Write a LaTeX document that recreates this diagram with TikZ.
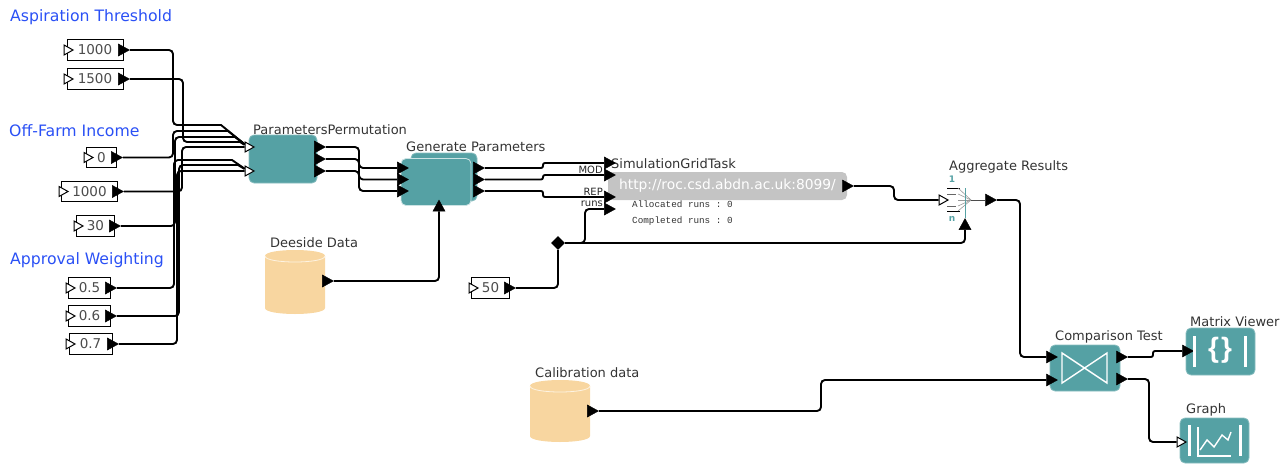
\documentclass[tikz,border=0pt]{standalone}
\usepackage{fontspec}
\setmainfont{DejaVu Sans}
\setmonofont{Liberation Mono}
\newfontfamily\bracefont{Liberation Sans}
\usetikzlibrary{shapes.geometric}
\definecolor{tealbox}{HTML}{55A1A4}
\definecolor{peach}{HTML}{F8D6A0}
\definecolor{linkblue}{HTML}{2A50F5}
\definecolor{simgray}{HTML}{C4C4C4}
\begin{document}
\begin{tikzpicture}[x=1pt,y=-1pt]
        \tikzstyle{wire} = [line width=1.9pt, rounded corners=4pt]
        \tikzstyle{jog} = [line width=1.9pt, rounded corners=2pt]
        \tikzstyle{heading} = [text=linkblue, font=\fontsize{15.7}{17}\selectfont, anchor=west, inner sep=0pt]
        \tikzstyle{caption} = [text=black!80, font=\fontsize{13}{15}\selectfont, anchor=west, inner sep=0pt]
        \tikzstyle{const} = [rectangle, draw=black, fill=white, line width=0.9pt, text=black!70, inner sep=0pt, minimum height=20.5pt, font=\fontsize{13.5}{15}\selectfont]
        \tikzstyle{block} = [rectangle, rounded corners=5pt, fill=tealbox, draw=tealbox!70!white, line width=0.8pt, inner sep=0pt]
        \tikzstyle{blackport} = [isosceles triangle, isosceles triangle stretches, fill=black, draw=black, line width=0.4pt, minimum width=12pt, minimum height=11pt, inner sep=0pt]
        \tikzstyle{whiteport} = [blackport, fill=white, line width=1pt, minimum width=10pt, minimum height=9pt]
        \tikzstyle{store} = [rectangle, inner sep=0pt, minimum width=60pt, minimum height=64pt]
        \tikzstyle{icon} = [white, line width=1.4pt]
        \tikzstyle{bar} = [white, line width=3pt]
        \tikzstyle{small} = [inner sep=0pt, anchor=east, text=black!85, font=\fontsize{10}{11}\selectfont]
        \tikzstyle{status} = [inner sep=0pt, anchor=west, text=black!80, font=\ttfamily\fontsize{9.3}{10}\selectfont]
        \useasboundingbox (0,0) rectangle (1287,463);

        % headings
        \node (headasp) [heading] at (10,17.5) {Aspiration Threshold};
        \node (headoff) [heading] at (9,130.5) {Off-Farm Income};
        \node (headapp) [heading] at (10,260.5) {Approval Weighting};

        % constants
        \node (asplow) [const, minimum width=56pt] at (95,50) {1000};
        \node (asphigh) [const, minimum width=56pt] at (95,79) {1500};
        \node (offzero) [const, minimum width=30pt] at (101.5,157.5) {0};
        \node (offmid) [const, minimum width=56pt] at (89.5,191.5) {1000};
        \node (offthirty) [const, minimum width=38pt] at (95.5,226) {30};
        \node (applow) [const, minimum width=42pt] at (89.5,288) {0.5};
        \node (appmid) [const, minimum width=42pt] at (89.5,316) {0.6};
        \node (apphigh) [const, minimum width=43pt] at (90.5,344) {0.7};
        \node (runsval) [const, minimum width=38pt] at (490.5,288) {50};

        \node (aspowin) [whiteport] at (67,50) {};
        \node (asphin) [whiteport] at (67,79) {};
        \node (offzin) [whiteport] at (87,157.5) {};
        \node (offmin) [whiteport] at (62,191.5) {};
        \node (offtin) [whiteport] at (77,226) {};
        \node (applin) [whiteport] at (69,288) {};
        \node (appmin) [whiteport] at (69,316) {};
        \node (apphin) [whiteport] at (69,344) {};
        \node (runsin) [whiteport] at (472,288) {};

        \node (aspowout) [blackport] at (122,50) {};
        \node (asphout) [blackport] at (122,79) {};
        \node (offzout) [blackport] at (115,157.5) {};
        \node (offmout) [blackport] at (116,191.5) {};
        \node (offtout) [blackport] at (113,226) {};
        \node (applout) [blackport] at (109,288) {};
        \node (appmout) [blackport] at (109,316) {};
        \node (apphout) [blackport] at (111,344) {};
        \node (runsout) [blackport] at (508,288) {};

        % parameters permutation
        \node (perm) [block, minimum width=68pt, minimum height=48pt] at (283,159) {};
        \node (permlabel) [caption] at (253,130) {ParametersPermutation};
        \node (permina) [whiteport] at (248,147) {};
        \node (perminb) [whiteport] at (248,171) {};
        \node (permouta) [blackport] at (318,147) {};
        \node (permoutb) [blackport] at (318,159) {};
        \node (permoutc) [blackport] at (318,171) {};

        % generate parameters
        \node (genback) [block, minimum width=66pt, minimum height=48pt] at (444,177) {};
        \node (gen) [block, draw=white!70!tealbox, minimum width=70pt, minimum height=47pt] at (436,182) {};
        \node (genlabel) [caption] at (406,147) {Generate Parameters};
        \node (genina) [blackport] at (401,168) {};
        \node (geninb) [blackport] at (401,179.5) {};
        \node (geninc) [blackport] at (401,191) {};
        \node (genind) [blackport, shape border rotate=90] at (439,207.5) {};
        \node (genouta) [blackport] at (477,168) {};
        \node (genoutb) [blackport] at (477,179.5) {};
        \node (genoutc) [blackport] at (477,191) {};

        % data sources
        \draw [fill=peach, draw=none] (265,256) .. controls (265,248) and (325,248) .. (325,256) -- (325,308) .. controls (325,316) and (265,316) .. (265,308) -- cycle;
        \draw [white!70!peach, line width=0.8pt] (265,256) .. controls (265,264) and (325,264) .. (325,256);
        \node (deeside) [store] at (295,282) {};
        \node (deesidelabel) [caption] at (270,243) {Deeside Data};
        \node (deesideout) [blackport] at (326,281) {};
        \draw [fill=peach, draw=none] (530,386) .. controls (530,378) and (590,378) .. (590,386) -- (590,436) .. controls (590,444) and (530,444) .. (530,436) -- cycle;
        \draw [white!70!peach, line width=0.8pt] (530,386) .. controls (530,394) and (590,394) .. (590,386);
        \node (calib) [store] at (560,411) {};
        \node (caliblabel) [caption] at (535,373) {Calibration data};
        \node (calibout) [blackport] at (591,411) {};

        % simulation task
        \node (sim) [rectangle, rounded corners=5pt, fill=simgray, minimum width=239pt, minimum height=28pt, inner sep=0pt, text=white, font=\fontsize{13.8}{15}\selectfont] at (727.5,186) {http://roc.csd.abdn.ac.uk:8099/};
        \node (simlabel) [caption] at (611,164) {SimulationGridTask};
        \node (simalloc) [status] at (632,204) {Allocated runs : 0};
        \node (simdone) [status] at (632,221) {Completed runs : 0};
        \node (simina) [blackport] at (608,163) {};
        \node (siminb) [blackport] at (608,175) {};
        \node (siminc) [blackport] at (608,197) {};
        \node (simind) [blackport] at (608,209) {};
        \node (simout) [blackport] at (846,186) {};
        \node (modlabel) [small] at (603,170) {MOD};
        \node (replabel) [small] at (603,192) {REP};
        \node (runslabel) [small] at (603,204) {runs};

        % aggregate results
        \node (agglabel) [caption] at (949,167) {Aggregate Results};
        \node (aggone) [text=tealbox, inner sep=0pt, font=\bfseries\fontsize{9}{10}\selectfont] at (952,179) {1};
        \node (aggn) [text=tealbox, inner sep=0pt, font=\bfseries\fontsize{9}{10}\selectfont] at (952,219) {n};
        \node (aggin) [whiteport] at (942,200) {};
        \node (aggout) [blackport] at (989,200) {};
        \node (aggcount) [blackport, shape border rotate=90] at (965,226) {};
        \node (aggsplit) [diamond, fill=black, inner sep=0pt, minimum width=14pt, minimum height=14pt] at (558,243) {};
        \coordinate (aggtip) at (971,200);
        \draw [black, line width=0.9pt] (947,188) -- (960,188);
        \draw [black, line width=0.9pt] (947,211) -- (960,211);
        \draw [black!60, line width=0.7pt] (947,194) -- (956,194);
        \draw [black!60, line width=0.7pt] (947,206) -- (956,206);
        \draw [black!40, line width=0.6pt] (958,188) -- (aggtip);
        \draw [black!40, line width=0.6pt] (958,194) -- (aggtip);
        \draw [black!40, line width=0.6pt] (958,200) -- (aggtip);
        \draw [black!40, line width=0.6pt] (958,206) -- (aggtip);
        \draw [black!40, line width=0.6pt] (958,211) -- (aggtip);
        \draw [black!70, line width=0.9pt] (aggtip) -- (aggout);
        \draw [tealbox, line width=0.9pt] (965,188) -- (aggcount);

        % comparison test
        \node (cmp) [block, minimum width=70pt, minimum height=46pt] at (1085,368) {};
        \node (cmplabel) [caption] at (1055,337) {Comparison Test};
        \node (cmpina) [blackport] at (1050,357) {};
        \node (cmpinb) [blackport] at (1050,380) {};
        \node (cmpouta) [blackport] at (1120,357) {};
        \node (cmpoutb) [blackport] at (1120,379) {};
        \draw [icon] (1062,353) -- (1107,383) -- (1107,353) -- (1062,383) -- cycle;

        % matrix viewer
        \node (matrix) [block, minimum width=69pt, minimum height=47pt] at (1220.5,351.5) {};
        \node (matrixlabel) [caption] at (1190,322) {Matrix Viewer};
        \node (matrixin) [blackport] at (1186,351) {};
        \node (matrixbrace) [text=white, inner sep=0pt, font=\bracefont\bfseries\fontsize{28}{30}\selectfont] at (1220,350) {\{\kern2pt\}};
        \draw [bar] (1194,336) -- (1194,367);
        \draw [bar] (1245,336) -- (1245,367);

        % graph
        \node (graph) [block, minimum width=69pt, minimum height=45pt] at (1214.5,440.5) {};
        \node (graphlabel) [caption] at (1186,410) {Graph};
        \node (graphin) [whiteport] at (1180,442) {};
        \draw [bar] (1189,425) -- (1189,456);
        \draw [bar] (1240,425) -- (1240,456);
        \draw [icon] (1198,427) -- (1198,456) -- (1231,456);
        \draw [icon] (1200,450) -- (1207,440) -- (1214,447) -- (1222,435) -- (1228,440) -- (1231,432);

        % wires into the permutation
        \draw [wire] (aspowout) -- (173,50) -- (173,125) -- (216,125) [sharp corners] -- (221,125) -- (permina);
        \draw [wire] (asphout) -- (183,79) -- (183,142) -- (235,142) [sharp corners] -- (240,142) -- (permina);
        \draw [wire] (offzout) -- (173,157.5) -- (173,131) -- (223,131) [sharp corners] -- (228,131) -- (permina);
        \draw [wire] (offtout) -- (175,226) -- (175,137) -- (230,137) [sharp corners] -- (235,137) -- (permina);
        \draw [wire] (offmout) -- (182,191.5) -- (182,147) -- (permina);
        \draw [wire] (applout) -- (174,288) -- (174,160) -- (227,160) [sharp corners] -- (232,160) -- (perminb);
        \draw [wire] (appmout) -- (179,316) -- (179,165) -- (233,165) [sharp corners] -- (238,165) -- (perminb);
        \draw [wire] (apphout) -- (177,344) -- (177,171) -- (perminb);

        \draw [wire] (permouta) -- (359,147) -- (359,168) -- (genina);
        \draw [wire] (permoutb) -- (359,159) -- (359,179.5) -- (geninb);
        \draw [wire] (permoutc) -- (359,171) -- (359,191) -- (geninc);
        \draw [wire] (deesideout) -- (439,281) -- (genind);

        \draw [jog] (genouta) -- (543,168) -- (543,163) -- (simina);
        \draw [jog] (genoutb) -- (543,179.5) -- (543,175) -- (siminb);
        \draw [jog] (genoutc) -- (543,191) -- (543,197) -- (siminc);

        \draw [wire] (runsout) -- (558,288) -- (aggsplit);
        \draw [wire] (aggsplit) -- (585,243) -- (585,209) -- (simind);
        \draw [wire] (aggsplit) -- (965,243) -- (aggcount);
        \draw [wire] (simout) -- (894,186) -- (894,200) -- (aggin);
        \draw [wire] (aggout) -- (1020,200) -- (1020,357) -- (cmpina);
        \draw [wire] (calibout) -- (821,411) -- (821,380) -- (cmpinb);
        \draw [jog] (cmpouta) -- (1153,357) -- (1153,351) -- (matrixin);
        \draw [wire] (cmpoutb) -- (1149,379) -- (1149,442) -- (graphin);

    \end{tikzpicture}
\end{document}
